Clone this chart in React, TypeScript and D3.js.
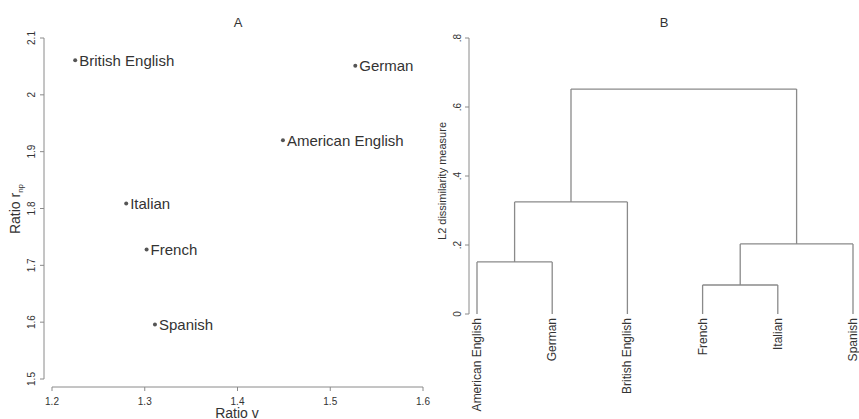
import React from "react";
import * as d3 from "d3";

const languages = ["British English", "German", "American English", "Italian", "French", "Spanish"];
const ratioV = [1.225, 1.527, 1.449, 1.28, 1.302, 1.311];
const ratioRnp = [2.061, 2.051, 1.92, 1.809, 1.728, 1.596];
const xTicksA = [1.2, 1.3, 1.4, 1.5, 1.6];
const yTicksA = [1.5, 1.6, 1.7, 1.8, 1.9, 2.0, 2.1];

const leafOrder = ["American English", "German", "British English", "French", "Italian", "Spanish"];
// hclust-style merges: negative = leaf index (1-based), positive = earlier merge (1-based)
const merges: [number, number][] = [[-1, -2], [1, -3], [-4, -5], [3, -6], [2, 4]];
const mergeHeights = [0.151, 0.325, 0.084, 0.203, 0.652];
const yTicksB = [0, 0.2, 0.4, 0.6, 0.8];
const yTickLabelsB = ["0", ".2", ".4", ".6", ".8"];

const FONT = "'Liberation Sans', Arial, sans-serif";
const LINE = "#8a8a8a";
const TEXT = "#333";

type Node = { name?: string; height: number; children?: Node[] };

function buildTree(): Node {
  const nodes: Node[] = [];
  const ref = (i: number): Node => (i < 0 ? { name: leafOrder[-i - 1], height: 0 } : nodes[i - 1]);
  merges.forEach(([a, b], k) => {
    nodes.push({ height: mergeHeights[k], children: [ref(a), ref(b)] });
  });
  return nodes[nodes.length - 1];
}

function PanelA() {
  const x = d3.scaleLinear().domain([1.2, 1.6]).range([52, 423]);
  const y = d3.scaleLinear().domain([1.5, 2.1]).range([379, 38]);
  const axisY = 387;
  const axisX = 44;
  return (
    <g fontFamily={FONT}>
      <text x={238} y={27} textAnchor="middle" fontSize={13} fill={TEXT}>A</text>
      {/* x axis */}
      <line x1={x(1.2)} x2={x(1.6)} y1={axisY} y2={axisY} stroke={LINE} />
      {xTicksA.map((t) => (
        <g key={t}>
          <line x1={x(t)} x2={x(t)} y1={axisY} y2={axisY + 4} stroke={LINE} />
          <text x={x(t)} y={axisY + 18} textAnchor="middle" fontSize={10} fill={TEXT}>
            {t.toFixed(1)}
          </text>
        </g>
      ))}
      <text x={237} y={418} textAnchor="middle" fontSize={14} fill={TEXT}>Ratio v</text>
      {/* y axis */}
      <line x1={axisX} x2={axisX} y1={y(1.5)} y2={y(2.1)} stroke={LINE} />
      {yTicksA.map((t) => (
        <g key={t}>
          <line x1={axisX - 4} x2={axisX} y1={y(t)} y2={y(t)} stroke={LINE} />
          <text
            transform={`translate(${axisX - 9},${y(t)}) rotate(-90)`}
            textAnchor="middle"
            fontSize={10}
            fill={TEXT}
          >
            {t === 2 ? "2" : t.toFixed(1)}
          </text>
        </g>
      ))}
      <text transform={`translate(20,209) rotate(-90)`} textAnchor="middle" fontSize={14} fill={TEXT}>
        Ratio r<tspan fontSize={8} dy={3}>np</tspan>
      </text>
      {/* points */}
      {languages.map((l, i) => (
        <g key={l}>
          <circle cx={x(ratioV[i])} cy={y(ratioRnp[i])} r={2} fill="#555" />
          <text x={x(ratioV[i]) + 4} y={y(ratioRnp[i]) + 5.5} fontSize={15} fill={TEXT}>
            {l}
          </text>
        </g>
      ))}
    </g>
  );
}

function PanelB() {
  const root = d3.hierarchy<Node>(buildTree());
  const xLeaf = d3.scalePoint<string>().domain(leafOrder).range([477, 853]);
  const y = d3.scaleLinear().domain([0, 0.8]).range([314, 38]);
  const pos = new Map<any, number>();
  root.eachAfter((n) => {
    if (!n.children) pos.set(n, xLeaf(n.data.name!)!);
    else pos.set(n, d3.mean(n.children, (c) => pos.get(c)!)!);
  });
  const segs: string[] = [];
  root.each((n) => {
    if (n.children) {
      const yy = y(n.data.height);
      const xs = n.children.map((c) => pos.get(c)!);
      segs.push(`M${d3.min(xs)},${yy}H${d3.max(xs)}`);
      n.children.forEach((c) => {
        segs.push(`M${pos.get(c)},${yy}V${y(c.data.height)}`);
      });
    }
  });
  const axisX = 469;
  return (
    <g fontFamily={FONT}>
      <text x={664} y={27} textAnchor="middle" fontSize={13} fill={TEXT}>B</text>
      <line x1={axisX} x2={axisX} y1={y(0)} y2={y(0.8)} stroke={LINE} />
      {yTicksB.map((t, i) => (
        <g key={t}>
          <line x1={axisX - 4} x2={axisX} y1={y(t)} y2={y(t)} stroke={LINE} />
          <text
            transform={`translate(${axisX - 8},${y(t)}) rotate(-90)`}
            textAnchor="middle"
            fontSize={10}
            fill={TEXT}
          >
            {yTickLabelsB[i]}
          </text>
        </g>
      ))}
      <text transform={`translate(446,181) rotate(-90)`} textAnchor="middle" fontSize={11} fill={TEXT}>
        L2 dissimilarity measure
      </text>
      <path d={segs.join("")} fill="none" stroke={LINE} strokeWidth={1.3} />
      {root.leaves().map((l) => (
        <text
          key={l.data.name}
          transform={`translate(${pos.get(l)! + 4},318) rotate(-90)`}
          textAnchor="end"
          fontSize={12}
          fill={TEXT}
        >
          {l.data.name}
        </text>
      ))}
    </g>
  );
}

export default function App() {
  return (
    <svg width={859} height={419} style={{ position: "absolute", left: 0, top: 0, background: "#fff" }}>
      <rect width={859} height={419} fill="#fff" />
      <PanelA />
      <PanelB />
    </svg>
  );
}
